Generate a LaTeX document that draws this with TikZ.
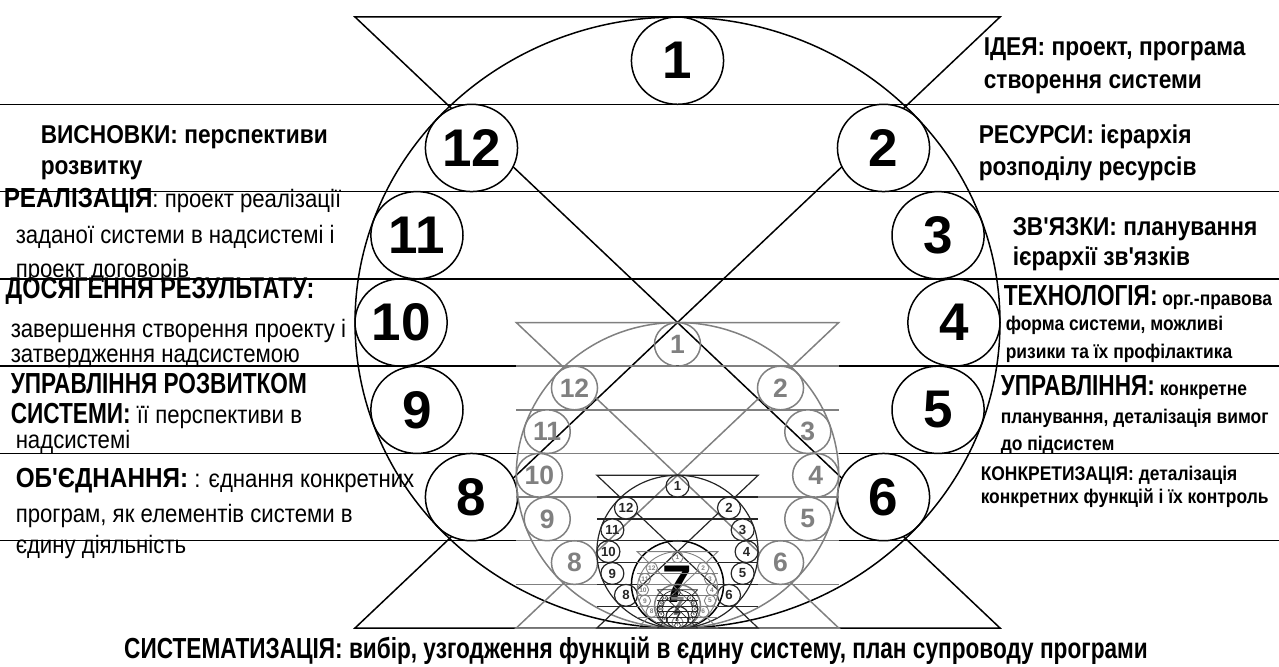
\documentclass[tikz,border=0pt]{standalone}
\usepackage{fontspec}
\setmainfont{Liberation Sans}
\newfontfamily\nf[FakeStretch=0.88]{Liberation Sans}
\newfontfamily\nnf[FakeStretch=0.78]{Liberation Sans}

\colorlet{lvgray}{black!50}
\colorlet{lvdark}{black!85}

\tikzset{
  lab/.style={anchor=base west, inner sep=0pt},
  fmain/.style={font=\nf\bfseries\fontsize{12.9}{14}\selectfont},
  freg/.style={font=\nf\fontsize{12.6}{14}\selectfont},
  fsmall/.style={font=\nf\bfseries\fontsize{9.9}{12}\selectfont},
}
\newcommand\hd{\nnf\bfseries\fontsize{14.5}{15}\selectfont}
\newcommand\hdw{\bfseries\fontsize{13.8}{15}\selectfont}

% twelve stages on a circle of radius 3 (unit square of side 7)
\def\wheelpts{1/0/3, 2/2.236/2, 3/2.828/1, 4/3/0, 5/2.828/-1, 6/2.236/-2,
  7/0/-3, 8/-2.236/-2, 9/-2.828/-1, 10/-3/0, 11/-2.828/1, 12/-2.236/2}

% #1 colour, #2 size of numbers, #3 line width, #4 level
\newcommand\wheel[4]{%
  \begin{scope}[draw=#1, line width=#3]
    \begin{scope}
      \clip (-3.6,3.6) -- (3.6,3.6) -- (3.6,-3.6) -- (-3.6,-3.6) -- cycle
        foreach \n/\px/\py in \wheelpts {(\px,\py) circle[radius=0.5]};
      \draw (-3.5,3.5) -- (3.5,3.5) -- (-3.5,-3.5) -- (3.5,-3.5) -- cycle;
      \foreach \y in {2.5,1.5,...,-2.5}
        \draw (-3.5,\y) -- (3.5,\y);
    \end{scope}
    \draw (0,0) circle[radius=3.5];
    \foreach \n/\px/\py in \wheelpts
      \draw (\px,\py) circle[radius=0.5]
        node[text=#1, font=\bfseries\fontsize{#2}{#2}\selectfont] (n#4-\n) {\n};
  \end{scope}}

\begin{document}
\begin{tikzpicture}[x=0.5pt, y=0.5pt, line width=0.75pt]
  \useasboundingbox (0,0) rectangle (1279,-666);

  % band lines of the outer level
  \foreach \y in {104.3,191.6,278.9,366.1,453.4,540.7}
    \draw (0,-\y) -- (1279,-\y);

  \begin{scope}[shift={(677.5,-322.5)}, x=46.07pt, y=43.645pt]
    \foreach \lv/\s/\cy/\col/\fs/\lw in {0/1/0/black/26.5/0.75,
        1/0.5/-1.75/lvgray/13.25/0.75, 2/0.25/-2.625/lvdark/6.6/0.6,
        3/0.125/-3.0625/lvgray/3.3/0.45, 4/0.0625/-3.28125/lvdark/1.65/0.35}{
      \begin{scope}[shift={(0,\cy)}, scale=\s]
        \wheel{\col}{\fs}{\lw}{\lv}
      \end{scope}
    }
  \end{scope}

  % left column
  \node[lab, fmain] (wisn1) at (40,-143) {ВИСНОВКИ: перспективи};
  \node[lab, fmain] (wisn2) at (40,-174) {розвитку};
  \node[lab, freg] (real1) at (3,-207) {{\hdw РЕАЛІЗАЦІЯ}: проект реалізації};
  \node[lab, freg] (real2) at (15,-243) {заданої системи в надсистемі і};
  \node[lab, freg] (real3) at (15,-277) {проект договорів};
  \node[lab, font=\nnf\bfseries\fontsize{15}{15}\selectfont] (dos1) at (5,-298) {ДОСЯГЕННЯ РЕЗУЛЬТАТУ:};
  \node[lab, freg] (dos2) at (10,-337) {завершення створення проекту і};
  \node[lab, freg] (dos3) at (10,-362) {затвердження надсистемою};
  \node[lab, font=\hd] (rozv1) at (10,-393) {УПРАВЛІННЯ РОЗВИТКОМ};
  \node[lab, freg] (rozv2) at (10,-423) {{\hd СИСТЕМИ:} її перспективи в};
  \node[lab, freg] (rozv3) at (15,-448) {надсистемі};
  \node[lab, freg] (obj1) at (15,-487) {{\hdw ОБ'ЄДНАННЯ:} : єднання конкретних};
  \node[lab, freg] (obj2) at (15,-522) {програм, як елементів системи в};
  \node[lab, freg] (obj3) at (15,-553) {єдину діяльність};

  % right column
  \node[lab, fmain] (idea1) at (983,-55) {ІДЕЯ: проект, програма};
  \node[lab, fmain] (idea2) at (983,-88) {створення системи};
  \node[lab, fmain] (res1) at (978,-143) {РЕСУРСИ: ієрархія};
  \node[lab, fmain] (res2) at (978,-175) {розподілу ресурсів};
  \node[lab, fmain] (zv1) at (1012,-235) {ЗВ'ЯЗКИ: планування};
  \node[lab, fmain] (zv2) at (1012,-265) {ієрархії зв'язків};
  \node[lab, fsmall] (teh1) at (1003,-305) {{\hd ТЕХНОЛОГІЯ:} орг.-правова};
  \node[lab, fsmall] (teh2) at (1005,-330) {форма системи, можливі};
  \node[lab, fsmall] (teh3) at (1005,-358) {ризики та їх профілактика};
  \node[lab, fsmall] (upr1) at (1000,-395) {{\hd УПРАВЛІННЯ:} конкретне};
  \node[lab, fsmall] (upr2) at (1000,-423) {планування, деталізація вимог};
  \node[lab, fsmall] (upr3) at (1000,-450) {до підсистем};
  \node[lab, fsmall] (konk1) at (980,-480) {КОНКРЕТИЗАЦІЯ: деталізація};
  \node[lab, fsmall] (konk2) at (980,-503) {конкретних функцій і їх контроль};

  \node[anchor=base, inner sep=0pt, font=\nnf\bfseries\fontsize{14.5}{16}\selectfont]
    (sys) at (636,-658) {СИСТЕМАТИЗАЦІЯ: вибір, узгодження функцій в єдину систему, план супроводу програми};
\end{tikzpicture}
\end{document}
